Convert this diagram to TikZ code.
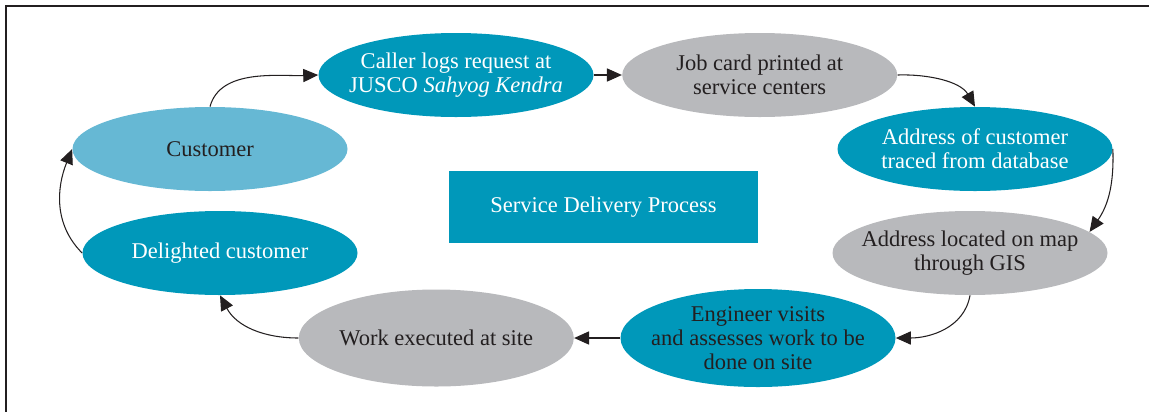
\documentclass[tikz,border=0pt]{standalone}
\usepackage{fontspec}
\setmainfont{Liberation Serif}
\usepackage{xcolor}
\usepackage{tikz}
\usetikzlibrary{shapes.geometric,arrows.meta,positioning}

\definecolor{tealblue}{HTML}{0098BA}
\definecolor{lightblue}{HTML}{66B8D4}
\definecolor{softgray}{HTML}{B8B9BC}
\definecolor{inkdark}{HTML}{231F20}

\begin{document}
\begin{tikzpicture}[
    bubble/.style={ellipse, minimum width=5.5cm, minimum height=1.68cm, inner sep=0pt, inner xsep=-0.9cm, align=center, font=\fontsize{12.8}{13.6}\selectfont, text=inkdark},
    titlebox/.style={rectangle, fill=tealblue, minimum width=6.18cm, minimum height=1.44cm, text=white, font=\fontsize{12.8}{13.6}\selectfont},
    arrow/.style={-{Triangle[length=8.5pt,width=7.5pt]}, line width=0.6pt, draw=inkdark}
]
    \useasboundingbox (0,0) rectangle (22.98,-8.22);

    % Frame
    \draw[line width=0.6pt, inkdark] (0.12,-8.3) -- (0.12,-0.12) -- (23.1,-0.12);

    % Centre
    \node[titlebox] (process) at (12.07,-4.14) {Service Delivery Process};

    % Top row
    \node[bubble, fill=lightblue] (customer) at (4.2,-2.98) {Customer};
    \node[bubble, fill=tealblue, text=white] (caller) at (9.12,-1.5) {Caller logs request at\\JUSCO \textit{Sahyog Kendra}};
    \node[bubble, fill=softgray, right=0.56cm of caller] (jobcard) {Job card printed at\\service centers};

    % Right side
    \node[bubble, fill=tealblue, text=white] (traced) at (19.5,-2.98) {Address of customer\\traced from database};
    \node[bubble, fill=softgray] (gis) at (19.4,-5.06) {Address located on map\\through GIS};

    % Bottom row
    \node[bubble, fill=tealblue, minimum height=1.96cm] (engineer) at (15.16,-6.76) {Engineer visits\\and assesses work to be\\done on site};
    \node[bubble, fill=softgray, minimum height=1.94cm, left=0.92cm of engineer] (work) {Work executed at site};
    \node[bubble, fill=tealblue, text=white] (delighted) at (4.4,-5.06) {Delighted customer};

    % Arrows
    \draw[arrow] (customer.north) to[out=75, in=182, looseness=0.9] (caller.west);
    \draw[arrow] (caller) -- (jobcard);
    \draw[arrow] (jobcard.east) to[out=2, in=120, looseness=0.9] (traced.north);
    \draw[arrow] (traced.east) to[out=-88, in=55] (gis.10);
    \draw[arrow] (gis.south) to[out=-100, in=0] (engineer.east);
    \draw[arrow] (engineer) -- (work);
    \draw[arrow] (work.west) to[out=180, in=-62] (delighted.south);
    \draw[arrow] (delighted.west) to[out=135, in=-112] (customer.west);

\end{tikzpicture}
\end{document}
